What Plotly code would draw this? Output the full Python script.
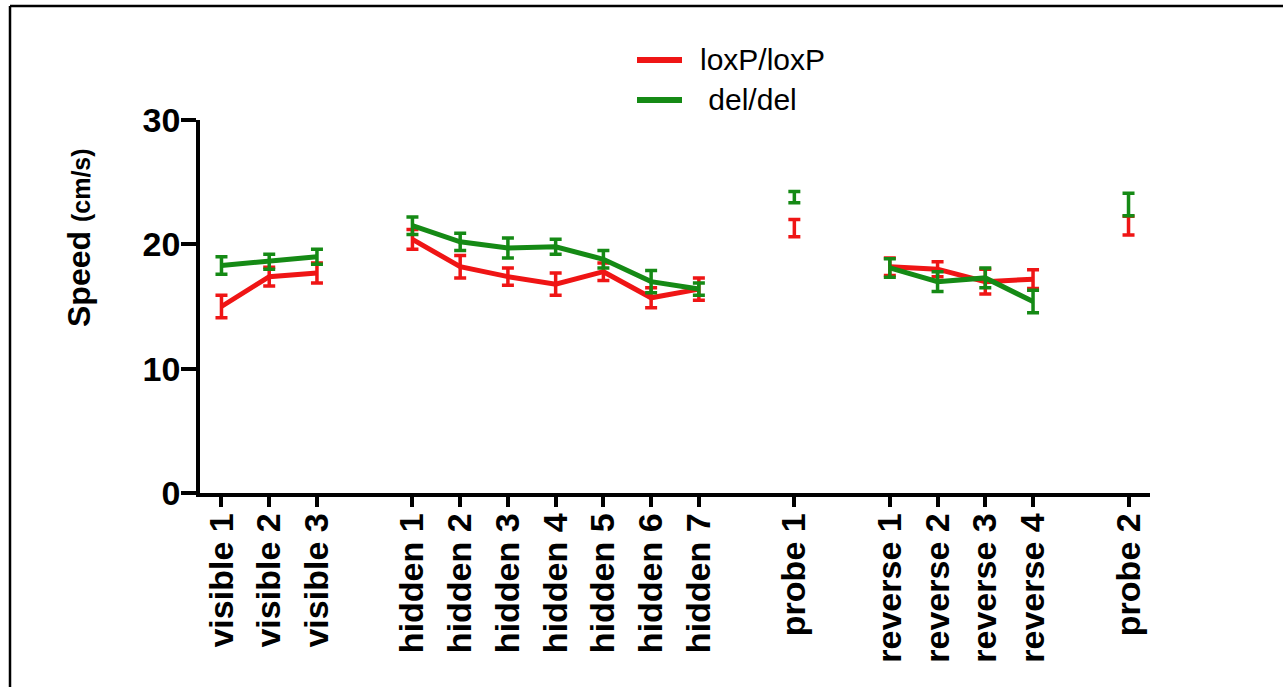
import plotly.graph_objects as go

# ---- data ----
sessions = [
    ["visible 1", "visible 2", "visible 3"],
    ["hidden 1", "hidden 2", "hidden 3", "hidden 4", "hidden 5", "hidden 6", "hidden 7"],
    ["probe 1"],
    ["reverse 1", "reverse 2", "reverse 3", "reverse 4"],
    ["probe 2"],
]
loxp_mean = [
    [15.0, 17.4, 17.7],
    [20.4, 18.2, 17.4, 16.8, 17.8, 15.7, 16.4],
    [21.3],
    [18.2, 18.0, 17.0, 17.2],
    [21.5],
]
loxp_sem = [
    [0.9, 0.75, 0.8],
    [0.8, 0.9, 0.7, 0.9, 0.7, 0.8, 0.9],
    [0.7],
    [0.7, 0.6, 1.0, 0.75],
    [0.75],
]
del_mean = [
    [18.3, 18.6, 19.0],
    [21.5, 20.2, 19.7, 19.8, 18.8, 17.0, 16.4],
    [23.8],
    [18.1, 17.0, 17.3, 15.4],
    [23.2],
]
del_sem = [
    [0.7, 0.6, 0.6],
    [0.7, 0.7, 0.8, 0.6, 0.7, 0.9, 0.5],
    [0.45],
    [0.75, 0.8, 0.8, 0.9],
    [0.9],
]
genotypes = ["loxP/loxP", " del/del"]
y_ticks = [0, 10, 20, 30]

RED = "#ef1515"
GREEN = "#158a15"
FONT = "Liberation Sans, Arial, Helvetica, sans-serif"

# category order with blank spacer categories between blocks
category_order = []
for i, grp in enumerate(sessions):
    if i > 0:
        category_order.append(" " * i)
    category_order.extend(grp)

fig = go.Figure()

def add_series(name, means, sems, color, group):
    for i, (grp, m, e) in enumerate(zip(sessions, means, sems)):
        fig.add_trace(go.Scatter(
            x=grp, y=m,
            mode="lines",
            line=dict(color=color, width=5),
            error_y=dict(type="data", array=e, visible=True, color=color,
                         thickness=3.5, width=6),
            name=name, legendgroup=group, showlegend=False,
        ))

add_series(genotypes[0], loxp_mean, loxp_sem, RED, "loxp")
add_series(genotypes[1], del_mean, del_sem, GREEN, "del")

W, H = 1283, 687
L, R, T, B = 200, 133, 120, 194
pw, ph = W - L - R, H - T - B

def px(xp):
    return (xp - L) / pw

def py(yp):
    return (H - B - yp) / ph

fig.update_layout(
    width=W, height=H,
    margin=dict(l=L, r=R, t=T, b=B, autoexpand=False),
    paper_bgcolor="white", plot_bgcolor="white",
    font=dict(family=FONT, color="black"),
    xaxis=dict(
        type="category", categoryorder="array", categoryarray=category_order,
        tickmode="array", tickvals=[s for g in sessions for s in g],
        ticktext=[s for g in sessions for s in g],
        range=[-0.45, len(category_order) - 1 + 0.45],
        showgrid=False, zeroline=False,
        showline=True, linecolor="black", linewidth=3.5,
        ticks="outside", ticklen=10, tickwidth=3.5, tickcolor="black",
        tickangle=-90, ticklabelstandoff=-7,
        tickfont=dict(family=FONT, size=34, color="black", weight="bold"),
    ),
    yaxis=dict(
        range=[0, 30], tickmode="array", tickvals=y_ticks,
        showgrid=False, zeroline=False,
        showline=True, linecolor="black", linewidth=3.5,
        ticks="outside", ticklen=15, tickwidth=3.5, tickcolor="black",
        ticklabelstandoff=-6,
        tickfont=dict(family=FONT, size=34, color="black", weight="bold"),
    ),
    showlegend=False,
)

# legend (drawn as key lines + labels)
for name, color, yc in [(genotypes[0], RED, 60), (genotypes[1], GREEN, 100)]:
    fig.add_shape(type="line", xref="paper", yref="paper",
                  x0=px(637), x1=px(682), y0=py(yc), y1=py(yc),
                  line=dict(color=color, width=6))
    fig.add_annotation(text=name, xref="paper", yref="paper",
                       x=px(698), y=py(yc), xanchor="left", yanchor="middle",
                       showarrow=False,
                       font=dict(family=FONT, size=30, color="black"))

fig.add_annotation(
    text="<b>Speed <span style='font-size:25px'>(cm/s)</span></b>",
    xref="paper", yref="paper", x=px(79), y=py(238),
    xanchor="center", yanchor="middle", textangle=-90, showarrow=False,
    font=dict(family=FONT, size=32, color="black"),
)

# outer frame (top and left edges)
fig.add_shape(type="line", xref="paper", yref="paper",
              x0=px(10), x1=px(W + 5), y0=py(6), y1=py(6),
              line=dict(color="black", width=2.5))
fig.add_shape(type="line", xref="paper", yref="paper",
              x0=px(10), x1=px(10), y0=py(6), y1=py(H + 5),
              line=dict(color="black", width=2.5))

fig.write_html("out.html", config={"displayModeBar": False},
               post_script="document.body.style.margin='0';document.body.style.padding='0';")
